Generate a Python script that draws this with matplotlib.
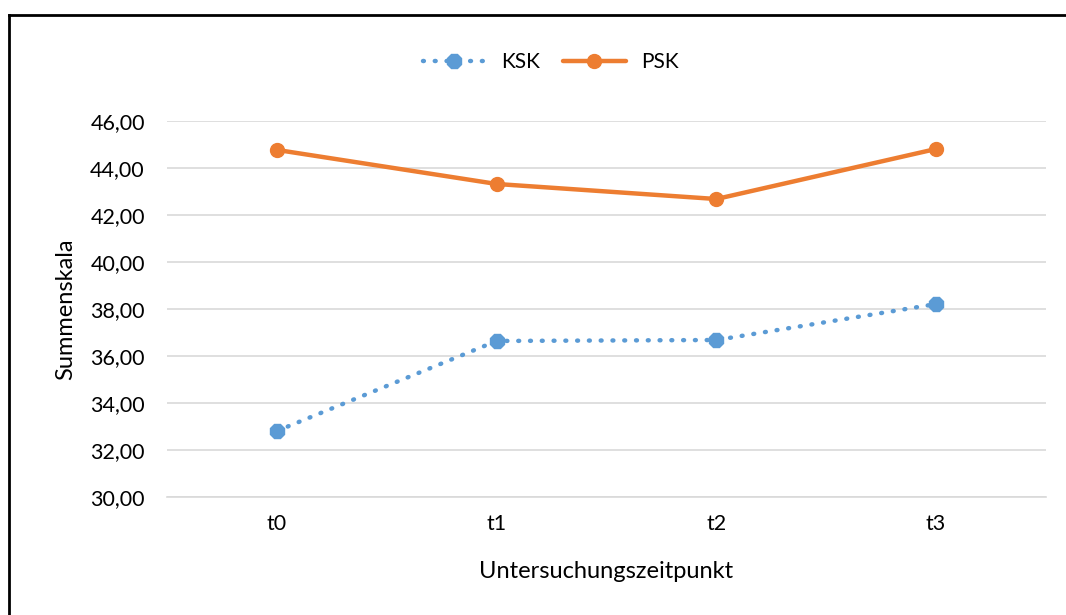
import matplotlib.pyplot as plt
from matplotlib.lines import Line2D

# Data
zeitpunkte = ['t0', 't1', 't2', 't3']
ksk = [32.81, 36.64, 36.68, 38.21]
psk = [44.77, 43.32, 42.68, 44.81]

plt.rcParams['font.family'] = ['Lato', 'DejaVu Sans']

W, H = 1066, 615
fig = plt.figure(figsize=(W / 100, H / 100), dpi=100)
ax = fig.add_axes([167 / W, 1 - 497 / H, (1046 - 167) / W, (497 - 121) / H])

x = range(len(zeitpunkte))
ax.plot(x, ksk, color='#5B9BD5', linestyle=(0, (0.2, 2.45)), linewidth=3.2,
        dash_capstyle='round', marker='8', markersize=11, label='KSK')
ax.plot(x, psk, color='#ED7D31', linewidth=3.2, marker='o', markersize=10,
        label='PSK', solid_capstyle='round')

ax.set_xlim(-0.5, 3.5)
ax.set_ylim(30, 46)
ax.set_yticks(range(30, 47, 2))
ax.set_yticklabels([f'{v},00' for v in range(30, 47, 2)])
ax.set_xticks(list(x))
ax.set_xticklabels(zeitpunkte)

ax.grid(True, axis='y', color='#d9d9d9', linewidth=1.2)
ax.set_axisbelow(True)
for s in ['top', 'right', 'left']:
    ax.spines[s].set_visible(False)
ax.spines['bottom'].set_color('#d9d9d9')
ax.spines['bottom'].set_linewidth(1.2)
ax.tick_params(length=0, labelsize=15.5, colors='black')
ax.tick_params(axis='x', pad=12)
ax.tick_params(axis='y', pad=16)

ax.set_ylabel('Summenskala', fontsize=17)
ax.set_xlabel('Untersuchungszeitpunkt', fontsize=17)
ax.yaxis.set_label_coords((66 - 167) / 879, 0.5)
ax.yaxis.label.set_va('center')
ax.xaxis.set_label_coords(0.5, (497 - 571) / 376)
ax.xaxis.label.set_va('center')

ax.legend(loc='center', bbox_to_anchor=(551 / W, 1 - 62 / H), bbox_transform=fig.transFigure,
          ncol=2, frameon=False, fontsize=15, handlelength=3.0, columnspacing=1.1,
          handletextpad=0.75)

# outer frame (only top and left edges visible)
fig.add_artist(Line2D([9 / W, 1], [1 - 15 / H, 1 - 15 / H], color='black', linewidth=2,
                      transform=fig.transFigure))
fig.add_artist(Line2D([9 / W, 9 / W], [0, 1 - 15 / H], color='black', linewidth=2,
                      transform=fig.transFigure))

fig.savefig('out.png', dpi=100)
